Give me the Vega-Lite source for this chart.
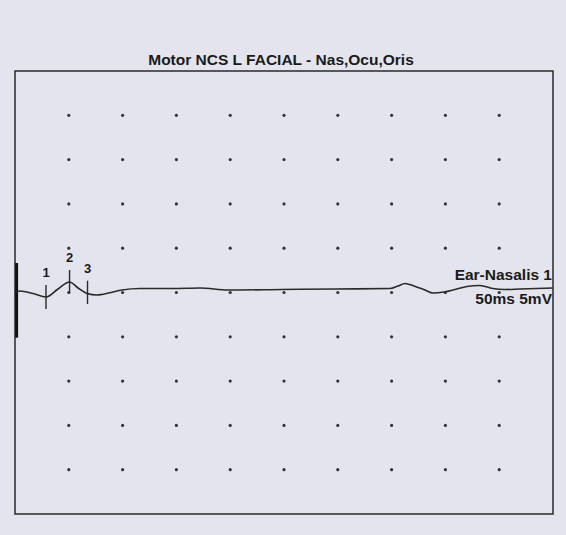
{
  "$schema": "https://vega.github.io/schema/vega-lite/v6.json",
  "width": 538,
  "height": 443,
  "autosize": {"type": "none"},
  "padding": {"left": 15, "top": 71, "right": 13, "bottom": 21},
  "background": "#e4e4ee",
  "title": {"text": "Motor NCS L FACIAL - Nas,Ocu,Oris", "font": "Liberation Sans", "fontSize": 15.5, "fontWeight": "bold", "color": "#1a1a1a", "anchor": "middle", "baseline": "alphabetic", "offset": 6, "dy": 15, "dx": -3},
  "config": {"view": {"stroke": "#2a2a2a", "strokeWidth": 1.5}},
  "datasets": {
    "dots": [
      {"t":5,"v":20},{"t":10,"v":20},{"t":15,"v":20},{"t":20,"v":20},{"t":25,"v":20},{"t":30,"v":20},{"t":35,"v":20},{"t":40,"v":20},{"t":45,"v":20},
      {"t":5,"v":15},{"t":10,"v":15},{"t":15,"v":15},{"t":20,"v":15},{"t":25,"v":15},{"t":30,"v":15},{"t":35,"v":15},{"t":40,"v":15},{"t":45,"v":15},
      {"t":5,"v":10},{"t":10,"v":10},{"t":15,"v":10},{"t":20,"v":10},{"t":25,"v":10},{"t":30,"v":10},{"t":35,"v":10},{"t":40,"v":10},{"t":45,"v":10},
      {"t":5,"v":5},{"t":10,"v":5},{"t":15,"v":5},{"t":20,"v":5},{"t":25,"v":5},{"t":30,"v":5},{"t":35,"v":5},{"t":40,"v":5},{"t":45,"v":5},
      {"t":5,"v":0},{"t":10,"v":0},{"t":15,"v":0},{"t":20,"v":0},{"t":25,"v":0},{"t":30,"v":0},{"t":35,"v":0},{"t":40,"v":0},{"t":45,"v":0},
      {"t":5,"v":-5},{"t":10,"v":-5},{"t":15,"v":-5},{"t":20,"v":-5},{"t":25,"v":-5},{"t":30,"v":-5},{"t":35,"v":-5},{"t":40,"v":-5},{"t":45,"v":-5},
      {"t":5,"v":-10},{"t":10,"v":-10},{"t":15,"v":-10},{"t":20,"v":-10},{"t":25,"v":-10},{"t":30,"v":-10},{"t":35,"v":-10},{"t":40,"v":-10},{"t":45,"v":-10},
      {"t":5,"v":-15},{"t":10,"v":-15},{"t":15,"v":-15},{"t":20,"v":-15},{"t":25,"v":-15},{"t":30,"v":-15},{"t":35,"v":-15},{"t":40,"v":-15},{"t":45,"v":-15},
      {"t":5,"v":-20},{"t":10,"v":-20},{"t":15,"v":-20},{"t":20,"v":-20},{"t":25,"v":-20},{"t":30,"v":-20},{"t":35,"v":-20},{"t":40,"v":-20},{"t":45,"v":-20}
    ],
    "trace": [
      {"t":0,"v":0},{"t":0.46,"v":0.17},{"t":1.67,"v":-0.11},{"t":2.88,"v":-0.51},{"t":4.0,"v":0.4},{"t":5.07,"v":1.19},{"t":5.86,"v":0.51},{"t":6.69,"v":-0.11},{"t":7.62,"v":-0.28},{"t":8.83,"v":-0.02},{"t":9.94,"v":0.28},{"t":11.62,"v":0.45},{"t":14.68,"v":0.45},{"t":17.19,"v":0.51},{"t":19.8,"v":0.28},{"t":24.81,"v":0.34},{"t":29.83,"v":0.4},{"t":34.85,"v":0.45},{"t":35.59,"v":0.73},{"t":36.25,"v":1.02},{"t":37.08,"v":0.73},{"t":38.1,"v":0.28},{"t":38.85,"v":-0.06},{"t":39.87,"v":0.06},{"t":40.89,"v":0.34},{"t":42.0,"v":0.68},{"t":43.2,"v":0.79},{"t":44.4,"v":0.45},{"t":45.5,"v":0.34},{"t":46.93,"v":0.4},{"t":50,"v":0.51}
    ],
    "markers": [
      {"t":2.88,"v1":0.85,"v2":-1.86,"label":"1","lv":2.17},
      {"t":5.07,"v1":2.54,"v2":-0.06,"label":"2","lv":3.89},
      {"t":6.74,"v1":1.33,"v2":-1.3,"label":"3","lv":2.62}
    ],
    "stim": [{"t":0.15,"v1":3.33,"v2":-5.1}],
    "labels": [
      {"t":50,"v":1.98,"label":"Ear-Nasalis 1"},
      {"t":50,"v":-0.77,"label":"50ms 5mV"}
    ]
  },
  "layer": [
    {
      "data": {"name": "dots"},
      "mark": {"type": "point", "filled": true, "shape": "circle", "size": 10, "color": "#333", "opacity": 1},
      "encoding": {
        "x": {"field": "t", "type": "quantitative", "scale": {"domain": [0, 50], "nice": false, "zero": false}, "axis": null},
        "y": {"field": "v", "type": "quantitative", "scale": {"domain": [-25, 25], "nice": false, "zero": false}, "axis": null}
      }
    },
    {
      "data": {"name": "stim"},
      "mark": {"type": "rule", "strokeWidth": 3, "color": "#111"},
      "encoding": {
        "x": {"field": "t", "type": "quantitative"},
        "y": {"field": "v1", "type": "quantitative"},
        "y2": {"field": "v2"}
      }
    },
    {
      "data": {"name": "trace"},
      "mark": {"type": "line", "strokeWidth": 1.6, "color": "#2a2a2a", "interpolate": "monotone"},
      "encoding": {
        "x": {"field": "t", "type": "quantitative"},
        "y": {"field": "v", "type": "quantitative"}
      }
    },
    {
      "data": {"name": "markers"},
      "mark": {"type": "rule", "strokeWidth": 1.4, "color": "#2a2a2a"},
      "encoding": {
        "x": {"field": "t", "type": "quantitative"},
        "y": {"field": "v1", "type": "quantitative"},
        "y2": {"field": "v2"}
      }
    },
    {
      "data": {"name": "markers"},
      "mark": {"type": "text", "font": "Liberation Sans", "fontSize": 13, "fontWeight": "bold", "color": "#1a1a1a", "baseline": "middle", "align": "center"},
      "encoding": {
        "x": {"field": "t", "type": "quantitative"},
        "y": {"field": "lv", "type": "quantitative"},
        "text": {"field": "label"}
      }
    },
    {
      "data": {"name": "labels"},
      "mark": {"type": "text", "font": "Liberation Sans", "fontSize": 15.5, "fontWeight": "bold", "color": "#1a1a1a", "baseline": "middle", "align": "right", "dx": -1},
      "encoding": {
        "x": {"field": "t", "type": "quantitative"},
        "y": {"field": "v", "type": "quantitative"},
        "text": {"field": "label"}
      }
    }
  ]
}
